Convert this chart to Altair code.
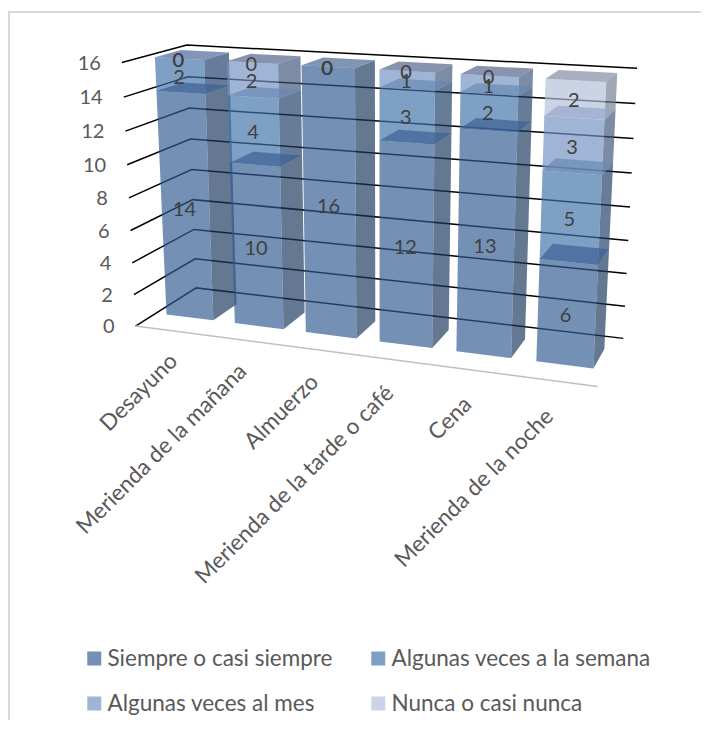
import altair as alt
import numpy as np

categories = ["Desayuno", "Merienda de la mañana", "Almuerzo",
              "Merienda de la tarde o café", "Cena", "Merienda de la noche"]
series_names = ["Siempre o casi siempre", "Algunas veces a la semana",
                "Algunas veces al mes", "Nunca o casi nunca"]
siempre = [14, 10, 16, 12, 13, 6]
semana = [2, 4, 0, 3, 2, 5]
mes = [0, 2, 0, 1, 1, 3]
nunca = [0, 0, 0, 0, 0, 2]
series = [siempre, semana, mes, nunca]
y_ticks = [0, 2, 4, 6, 8, 10, 12, 14, 16]

front_colors = ["#335C92", "#4373A9", "#7392C3", "#B3C0DA"]
side_colors = ["#1B385D", "#1E3E68", "#40567B", "#737F91"]
inner_top = ["#3A5E94", "#6587B3", "#93A5C9", "#93A5C9"]
outer_top = ["#44628F", "#466496", "#506289", "#8289A0"]
ALPHA = 0.68

# Oblique view of the 3D box: category share u, value v, depth w -> page pixel
views = [((0, 0, 0), (136, 326)), ((1, 0, 0), (598, 386)), ((0, 0, 1), (196, 288)),
         ((1, 0, 1), (623, 339)), ((0, 16, 1), (187, 45)), ((1, 16, 1), (637, 68)),
         ((0, 16, 0), (122, 63)), ((0, 8, 0), (128, 198)), ((0, 8, 1), (192, 169)),
         ((1, 8, 1), (630, 207))]
A, b = [], []
for (u, v, w), (px, py) in views:
    v = v / 16
    A.append([u, v, w, 1, 0, 0, 0, 0, -px * u, -px * v, -px * w])
    b.append(px)
    A.append([0, 0, 0, 0, u, v, w, 1, -py * u, -py * v, -py * w])
    b.append(py)
m = np.linalg.lstsq(np.array(A, float), np.array(b, float), rcond=None)[0]


def P(u, v, w):
    v = v / 16
    d = m[8] * u + m[9] * v + m[10] * w + 1
    return [float((m[0] * u + m[1] * v + m[2] * w + m[3]) / d - 8),
            float((m[4] * u + m[5] * v + m[6] * w + m[7]) / d - 8)]


def poly(pts, **props):
    return {"type": "Feature", "properties": props,
            "geometry": {"type": "Polygon", "coordinates": [pts + [pts[0]]]}}


def line(pts):
    return {"type": "Feature", "properties": {},
            "geometry": {"type": "LineString", "coordinates": pts}}


W0, W1 = 0.32, 0.73
MARGIN = 0.026
BAR = 0.115
sides, fronts, tops, labels = [], [], [], []
for i in range(len(categories)):
    u0 = i / 6 + MARGIN
    u1 = u0 + BAR
    base = 0
    vals = [s[i] for s in series]
    last = max(k for k in range(4) if vals[k] > 0)
    for k, val in enumerate(vals):
        top = base + val
        lx, ly = P((u0 + u1) / 2, base + val / 2, W0)
        labels.append({"label": str(val), "lon": lx - 1, "lat": ly + 2})
        if val > 0:
            sides.append(poly([P(u1, base, W0), P(u1, base, W1), P(u1, top, W1), P(u1, top, W0)],
                              fill=side_colors[k]))
            fronts.append(poly([P(u0, base, W0), P(u1, base, W0), P(u1, top, W0), P(u0, top, W0)],
                               serie=series_names[k]))
            tops.append(poly([P(u0, top, W0), P(u1, top, W0), P(u1, top, W1), P(u0, top, W1)],
                             fill=outer_top[k] if k == last else inner_top[k]))
        base = top

grid = [line([P(0, t, 0), P(0, t, 1), P(1, t, 1)]) for t in y_ticks]
floor = [line([P(0, 0, 0), P(1, 0, 0)])]
frame = [line([[1, 712], [1, 4], [693, 4]])]

y_labels = []
for t in y_ticks:
    lon, lat = P(0, t, 0)
    y_labels.append({"label": str(t), "lon": lon - 21, "lat": lat + 1})

x_labels = []
for i, c in enumerate(categories):
    lon, lat = P(i / 6 + 1 / 12, 0, 0)
    x_labels.append({"label": c, "lon": lon + 4 - 1.8 * i, "lat": lat + 27 + i})

FONT = "Lato"
frame_l = alt.Chart(alt.Data(values=frame)).mark_geoshape(filled=False, stroke="#D9D9D9", strokeWidth=2)
grid_l = alt.Chart(alt.Data(values=grid)).mark_geoshape(filled=False, stroke="#000000", strokeWidth=1.5)
floor_l = alt.Chart(alt.Data(values=floor)).mark_geoshape(filled=False, stroke="#BFBFBF", strokeWidth=1.5)
side_l = alt.Chart(alt.Data(values=sides)).mark_geoshape(opacity=ALPHA, strokeWidth=0).encode(
    color=alt.Color("properties.fill:N", scale=None))
front_l = alt.Chart(alt.Data(values=fronts)).mark_geoshape(opacity=ALPHA, strokeWidth=0).encode(
    color=alt.Color(
        "properties.serie:N",
        scale=alt.Scale(domain=series_names, range=front_colors),
        legend=alt.Legend(
            title=None, orient="none", legendX=75, legendY=638, columns=2, direction="horizontal",
            symbolType="square", symbolSize=196, symbolStrokeWidth=0, symbolOpacity=ALPHA,
            labelFont=FONT, labelFontSize=22.5, labelColor="#595959", labelOffset=2,
            labelLimit=400, columnPadding=34, rowPadding=20, clipHeight=25,
        ),
    ))
top_l = alt.Chart(alt.Data(values=tops)).mark_geoshape(opacity=ALPHA, strokeWidth=0).encode(
    color=alt.Color("properties.fill:N", scale=None))
lab_l = alt.Chart(alt.Data(values=labels)).mark_text(
    font=FONT, fontSize=20, color="#404040", baseline="middle").encode(
    longitude="lon:Q", latitude="lat:Q", text="label:N")
ylab_l = alt.Chart(alt.Data(values=y_labels)).mark_text(
    font=FONT, fontSize=20, color="#595959", align="right", baseline="middle").encode(
    longitude="lon:Q", latitude="lat:Q", text="label:N")
xlab_l = alt.Chart(alt.Data(values=x_labels)).mark_text(
    font=FONT, fontSize=22.5, color="#595959", align="right", baseline="middle", angle=315).encode(
    longitude="lon:Q", latitude="lat:Q", text="label:N")

chart = alt.layer(frame_l, grid_l, floor_l, side_l, front_l, top_l, lab_l, ylab_l, xlab_l).resolve_scale(
    color="independent"
).project(type="identity", scale=1, translate=[0, 0]).properties(
    width=693, height=712, padding=0
).configure_view(stroke=None)

chart.save("out.html", embed_options={"renderer": "svg", "actions": False})
